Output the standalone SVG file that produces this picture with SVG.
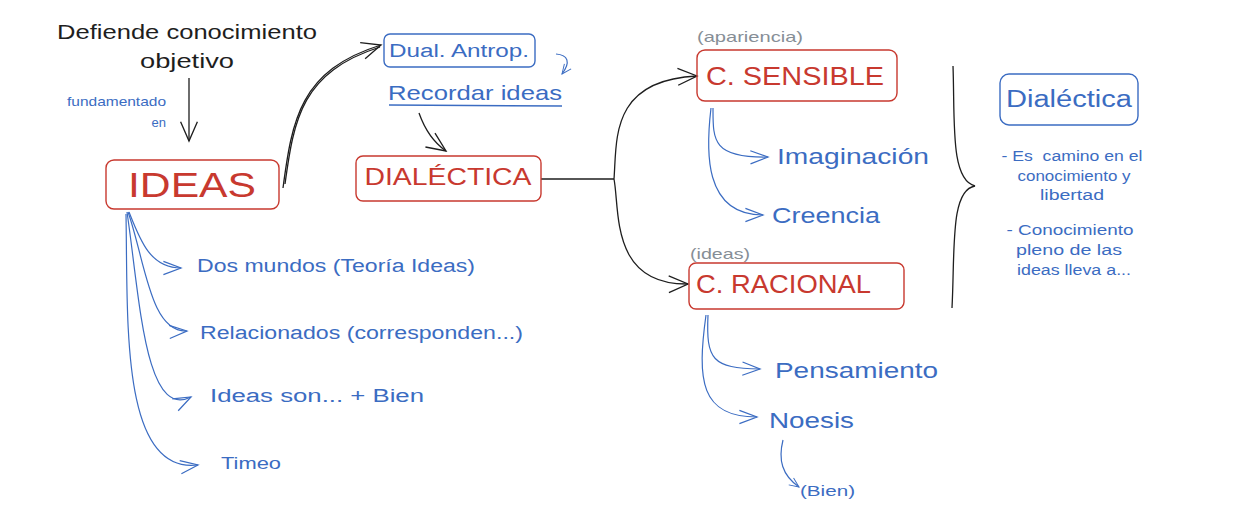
<svg xmlns="http://www.w3.org/2000/svg" width="1236" height="507" viewBox="0 0 1236 507">
<defs>
<style>
text{font-family:"Liberation Sans","Open Sans",sans-serif}
.blk{fill:#1e1e1e}
.red{fill:#c8392f}
.blu{fill:#3b6cc2}
.gry{fill:#868e96}
.boxr{fill:none;stroke:#c8392f;stroke-width:1.4}
.boxb{fill:none;stroke:#3b6cc2;stroke-width:1.4}
.cb{fill:none;stroke:#1e1e1e;stroke-width:1.3}
.cl{fill:none;stroke:#3b6cc2;stroke-width:1.2}
</style>
<marker id="ak" viewBox="0 0 20 20" refX="18" refY="10" markerWidth="24" markerHeight="24" markerUnits="userSpaceOnUse" orient="auto"><path d="M2 3 L18 10 L2 17" fill="none" stroke="#1e1e1e" stroke-width="1.1"/></marker>
<marker id="ab" viewBox="0 0 20 20" refX="18" refY="10" markerWidth="22" markerHeight="22" markerUnits="userSpaceOnUse" orient="auto"><path d="M2 4 L18 10 L2 16" fill="none" stroke="#3b6cc2" stroke-width="1.1"/></marker>
<marker id="abs" viewBox="0 0 20 20" refX="18" refY="10" markerWidth="12" markerHeight="12" markerUnits="userSpaceOnUse" orient="auto"><path d="M2 3 L18 10 L2 17" fill="none" stroke="#3b6cc2" stroke-width="1.6"/></marker>
</defs>

<g id="connectors">
<path class="cb" d="M189 78 L189 141" marker-end="url(#ak)"/>
<path class="cb" d="M283 188 C292 120 300 70 381 45" marker-end="url(#ak)"/>
<path class="cb" d="M285 184 C294 118 302 72 380 47"/>
<path class="cl" d="M556 54 C568 55 571 62 562 74" marker-end="url(#abs)"/>
<path class="cb" d="M419 113 C425 130 433 142 446 151" marker-end="url(#ak)"/>
<path class="cb" d="M541 179 L614 179"/>
<path class="cb" d="M614 179 C617 140 610 80 697 76" marker-end="url(#ak)"/>
<path class="cb" d="M614 179 C620 210 610 285 688 284" marker-end="url(#ak)"/>
<path class="cl" d="M713 108 C713 140 712 158 768 157" marker-end="url(#ab)"/>
<path class="cl" d="M711 108 C706 150 703 215 763 215" marker-end="url(#ab)"/>
<path class="cl" d="M708 315 C706 360 712 368 760 369" marker-end="url(#ab)"/>
<path class="cl" d="M706 315 C697 380 700 417 757 417" marker-end="url(#ab)"/>
<path class="cl" d="M783 440 C778 460 782 475 799 487" marker-end="url(#abs)"/>
<path class="cl" d="M129 212 C140 240 150 268 181 268" marker-end="url(#ab)"/>
<path class="cl" d="M128 212 C145 260 150 333 187 331" marker-end="url(#ab)"/>
<path class="cl" d="M127 212 C140 300 145 420 191 397" marker-end="url(#ab)"/>
<path class="cl" d="M126 214 C128 320 120 475 198 465" marker-end="url(#ab)"/>
<path class="cb" d="M953 66 C955 120 950 180 975 186 C950 190 955 250 952 308"/>
</g>

<g id="title">
<text class="blk" x="187" y="39" font-size="21" text-anchor="middle" textLength="260" lengthAdjust="spacingAndGlyphs">Defiende conocimiento</text>
<text class="blk" x="187" y="68" font-size="21" text-anchor="middle" textLength="94" lengthAdjust="spacingAndGlyphs">objetivo</text>
</g>
<g id="fundamentado">
<text class="blu" x="166" y="106" font-size="13" text-anchor="end" textLength="99" lengthAdjust="spacingAndGlyphs">fundamentado</text>
<text class="blu" x="166" y="127" font-size="13" text-anchor="end">en</text>
</g>
<g id="ideas">
<rect class="boxr" x="106" y="160" width="173" height="49" rx="8"/>
<text class="red" x="192" y="197" font-size="35" text-anchor="middle" textLength="128" lengthAdjust="spacingAndGlyphs">IDEAS</text>
</g>
<g id="dual">
<rect class="boxb" x="384" y="34" width="151" height="33" rx="6"/>
<text class="blu" x="459" y="57" font-size="18" text-anchor="middle" textLength="140" lengthAdjust="spacingAndGlyphs">Dual. Antrop.</text>
</g>
<g id="recordar">
<text class="blu" x="388" y="100" font-size="21" textLength="174" lengthAdjust="spacingAndGlyphs">Recordar ideas</text>
<path d="M389 105 L562 106" stroke="#3b6cc2" stroke-width="1.4" fill="none"/>
</g>
<g id="dialectica">
<rect class="boxr" x="356" y="156" width="185" height="45" rx="7"/>
<text class="red" x="448" y="185" font-size="23" text-anchor="middle" textLength="167" lengthAdjust="spacingAndGlyphs">DIALÉCTICA</text>
</g>
<g id="sensible">
<text class="gry" x="697" y="42" font-size="15" textLength="106" lengthAdjust="spacingAndGlyphs">(apariencia)</text>
<rect class="boxr" x="697" y="50" width="200" height="51" rx="8"/>
<text class="red" x="706" y="85" font-size="25" textLength="178" lengthAdjust="spacingAndGlyphs">C. SENSIBLE</text>
</g>
<g id="imaginacion"><text class="blu" x="777" y="164" font-size="22" textLength="152" lengthAdjust="spacingAndGlyphs">Imaginación</text></g>
<g id="creencia"><text class="blu" x="772" y="223" font-size="22" textLength="108" lengthAdjust="spacingAndGlyphs">Creencia</text></g>
<g id="racional">
<text class="gry" x="690" y="259" font-size="15" textLength="60" lengthAdjust="spacingAndGlyphs">(ideas)</text>
<rect class="boxr" x="689" y="263" width="215" height="46" rx="7"/>
<text class="red" x="696" y="293" font-size="25" textLength="175" lengthAdjust="spacingAndGlyphs">C. RACIONAL</text>
</g>
<g id="pensamiento"><text class="blu" x="775" y="378" font-size="22" textLength="163" lengthAdjust="spacingAndGlyphs">Pensamiento</text></g>
<g id="noesis"><text class="blu" x="769" y="428" font-size="22" textLength="85" lengthAdjust="spacingAndGlyphs">Noesis</text></g>
<g id="bien"><text class="blu" x="800" y="496" font-size="15" textLength="55" lengthAdjust="spacingAndGlyphs">(Bien)</text></g>
<g id="dialectica-note">
<rect class="boxb" x="1000" y="74" width="138" height="51" rx="9"/>
<text class="blu" x="1069" y="107" font-size="23" text-anchor="middle" textLength="126" lengthAdjust="spacingAndGlyphs">Dialéctica</text>
<g class="blu" font-size="14" text-anchor="middle">
<text x="1072" y="161" xml:space="preserve" textLength="141" lengthAdjust="spacingAndGlyphs">- Es  camino en el</text>
<text x="1074" y="181" textLength="113" lengthAdjust="spacingAndGlyphs">conocimiento y</text>
<text x="1072" y="200" textLength="64" lengthAdjust="spacingAndGlyphs">libertad</text>
<text x="1070" y="235" textLength="127" lengthAdjust="spacingAndGlyphs">- Conocimiento</text>
<text x="1069" y="255" textLength="106" lengthAdjust="spacingAndGlyphs">pleno de las</text>
<text x="1074" y="275" textLength="114" lengthAdjust="spacingAndGlyphs">ideas lleva a...</text>
</g>
</g>
<g id="dos-mundos"><text class="blu" x="197" y="272" font-size="18" textLength="278" lengthAdjust="spacingAndGlyphs">Dos mundos (Teoría Ideas)</text></g>
<g id="relacionados"><text class="blu" x="200" y="339" font-size="18" textLength="323" lengthAdjust="spacingAndGlyphs">Relacionados (corresponden...)</text></g>
<g id="ideas-son"><text class="blu" x="210" y="402" font-size="18" textLength="214" lengthAdjust="spacingAndGlyphs">Ideas son... + Bien</text></g>
<g id="timeo"><text class="blu" x="221" y="469" font-size="17" textLength="60" lengthAdjust="spacingAndGlyphs">Timeo</text></g>
</svg>
